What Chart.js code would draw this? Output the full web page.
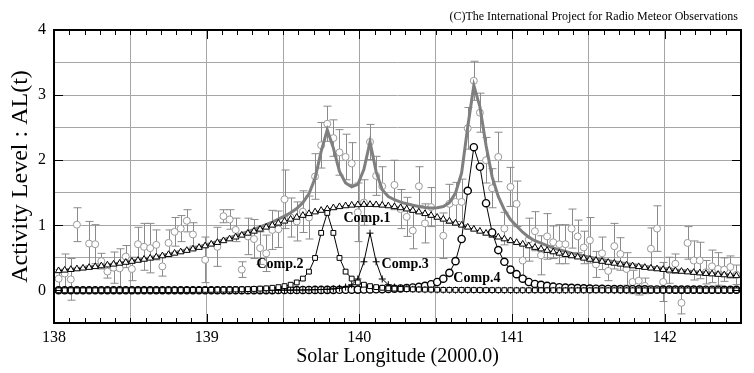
<!DOCTYPE html>
<html><head><meta charset="utf-8">
<script src="https://cdn.jsdelivr.net/npm/chart.js@4.4.1/dist/chart.umd.min.js"></script>
<style>html,body{margin:0;padding:0;background:#fff}#wrap{width:754px;height:373px}</style>
</head><body><div id="wrap"><canvas id="c" width="754" height="373"></canvas></div>
<script>
// Solar longitude grid of the model curves
const modelLon = [
138.03,138.07,138.11,138.15,138.19,138.23,138.27,138.31,138.35,138.39,
138.43,138.47,138.51,138.55,138.59,138.63,138.67,138.71,138.75,138.79,
138.83,138.87,138.91,138.95,138.99,139.03,139.07,139.11,139.15,139.19,
139.23,139.27,139.31,139.35,139.39,139.43,139.47,139.51,139.55,139.59,
139.63,139.67,139.71,139.75,139.79,139.83,139.87,139.91,139.95,139.99,
140.03,140.07,140.11,140.15,140.19,140.23,140.27,140.31,140.35,140.39,
140.43,140.47,140.51,140.55,140.59,140.63,140.67,140.71,140.75,140.79,
140.83,140.87,140.91,140.95,140.99,141.03,141.07,141.11,141.15,141.19,
141.23,141.27,141.31,141.35,141.39,141.43,141.47,141.51,141.55,141.59,
141.63,141.67,141.71,141.75,141.79,141.83,141.87,141.91,141.95,141.99,
142.03,142.07,142.11,142.15,142.19,142.23,142.27,142.31,142.35,142.39,
142.43,142.47];
// Comp.1 (triangles)
const comp1 = [
0.302,0.311,0.321,0.331,0.342,0.353,0.365,0.377,0.390,0.403,
0.417,0.431,0.446,0.462,0.478,0.495,0.513,0.531,0.551,0.571,
0.592,0.614,0.636,0.660,0.684,0.710,0.736,0.763,0.791,0.819,
0.848,0.878,0.909,0.940,0.971,1.002,1.033,1.064,1.094,1.123,
1.152,1.179,1.205,1.229,1.250,1.269,1.286,1.299,1.309,1.316,
1.320,1.320,1.316,1.309,1.299,1.286,1.269,1.250,1.229,1.205,
1.179,1.152,1.123,1.094,1.064,1.033,1.002,0.971,0.940,0.909,
0.878,0.848,0.819,0.791,0.763,0.736,0.710,0.684,0.660,0.636,
0.614,0.592,0.571,0.551,0.531,0.513,0.495,0.478,0.462,0.446,
0.431,0.417,0.403,0.390,0.377,0.365,0.353,0.342,0.331,0.321,
0.311,0.302,0.293,0.284,0.276,0.268,0.260,0.253,0.246,0.239,
0.232,0.226];
// Comp.2 (squares)
const comp2 = [
0.002,0.002,0.002,0.002,0.002,0.002,0.002,0.003,0.003,0.003,
0.003,0.003,0.003,0.003,0.004,0.004,0.004,0.005,0.005,0.006,
0.006,0.007,0.007,0.008,0.009,0.009,0.011,0.012,0.013,0.015,
0.017,0.020,0.023,0.028,0.033,0.041,0.051,0.066,0.088,0.123,
0.182,0.289,0.499,0.884,1.190,0.884,0.499,0.289,0.182,0.123,
0.088,0.066,0.051,0.041,0.033,0.028,0.023,0.020,0.017,0.015,
0.013,0.012,0.011,0.009,0.009,0.008,0.007,0.007,0.006,0.006,
0.005,0.005,0.004,0.004,0.004,0.003,0.003,0.003,0.003,0.003,
0.003,0.003,0.002,0.002,0.002,0.002,0.002,0.002,0.002,0.002,
0.002,0.002,0.002,0.002,0.002,0.002,0.001,0.001,0.001,0.001,
0.001,0.001,0.001,0.001,0.001,0.001,0.001,0.001,0.001,0.001,
0.001,0.001];
// Comp.3 (plus signs)
const comp3 = [
0,0,0,0,0,0,0,0,0,0,
0,0.001,0.001,0.001,0.001,0.001,0.001,0.001,0.001,0.001,
0.001,0.001,0.001,0.001,0.001,0.001,0.001,0.001,0.001,0.001,
0.002,0.002,0.002,0.003,0.003,0.003,0.004,0.005,0.005,0.006,
0.007,0.009,0.011,0.014,0.018,0.024,0.034,0.052,0.088,0.176,
0.440,0.880,0.440,0.176,0.088,0.052,0.034,0.024,0.018,0.014,
0.011,0.009,0.007,0.006,0.005,0.005,0.004,0.003,0.003,0.003,
0.002,0.002,0.002,0.002,0.001,0.001,0.001,0.001,0.001,0.001,
0.001,0.001,0.001,0.001,0.001,0.001,0.001,0.001,0.001,0.001,
0.001,0.001,0,0,0,0,0,0,0,0,
0,0,0,0,0,0,0,0,0,0,
0,0];
// Comp.4 (circles)
const comp4 = [
0.002,0.002,0.002,0.002,0.002,0.002,0.002,0.002,0.002,0.002,
0.002,0.002,0.002,0.002,0.002,0.002,0.002,0.002,0.003,0.003,
0.003,0.003,0.003,0.003,0.003,0.003,0.003,0.003,0.004,0.004,
0.004,0.004,0.005,0.005,0.005,0.005,0.006,0.006,0.006,0.006,
0.007,0.007,0.008,0.008,0.009,0.009,0.010,0.011,0.012,0.013,
0.014,0.016,0.018,0.020,0.023,0.027,0.031,0.037,0.045,0.055,
0.070,0.095,0.130,0.180,0.270,0.450,0.790,1.530,2.200,1.900,
1.340,0.890,0.620,0.440,0.320,0.250,0.180,0.130,0.100,0.085,
0.070,0.058,0.050,0.044,0.039,0.035,0.032,0.029,0.027,0.025,
0.023,0.021,0.020,0.019,0.018,0.017,0.016,0.015,0.015,0.014,
0.014,0.013,0.013,0.012,0.012,0.012,0.011,0.011,0.011,0.010,
0.010,0.010];
// Total model (grey line)
const modelTotal = [
0.306,0.315,0.325,0.335,0.346,0.357,0.369,0.382,0.395,0.408,
0.422,0.437,0.452,0.468,0.485,0.502,0.520,0.539,0.560,0.581,
0.602,0.625,0.647,0.672,0.697,0.723,0.751,0.779,0.809,0.839,
0.871,0.904,0.939,0.976,1.012,1.051,1.094,1.141,1.193,1.258,
1.348,1.484,1.723,2.135,2.467,2.186,1.829,1.651,1.591,1.628,
1.862,2.282,1.825,1.546,1.443,1.393,1.357,1.331,1.309,1.289,
1.273,1.268,1.271,1.289,1.348,1.496,1.803,2.511,3.149,2.818,
2.225,1.745,1.445,1.237,1.089,0.990,0.894,0.818,0.764,0.725,
0.688,0.654,0.624,0.598,0.573,0.551,0.530,0.510,0.492,0.474,
0.457,0.441,0.425,0.411,0.397,0.384,0.370,0.358,0.347,0.336,
0.326,0.316,0.307,0.297,0.289,0.281,0.272,0.265,0.258,0.250,
0.243,0.237];
// Observed activity level with error bars
const obsLon = [
138.03,138.07,138.11,138.15,138.23,138.27,138.31,138.35,138.39,138.43,
138.47,138.51,138.55,138.59,138.63,138.67,138.71,138.75,138.79,138.83,
138.87,138.91,138.99,139.07,139.11,139.15,139.19,139.23,139.27,139.31,
139.35,139.39,139.43,139.47,139.51,139.55,139.59,139.63,139.67,139.71,
139.75,139.79,139.83,139.87,139.91,139.95,139.99,140.03,140.07,140.11,
140.15,140.23,140.27,140.31,140.35,140.39,140.43,140.47,140.55,140.59,
140.63,140.67,140.71,140.75,140.79,140.83,140.87,140.91,140.95,140.99,
141.03,141.07,141.11,141.15,141.19,141.23,141.27,141.31,141.35,141.39,
141.43,141.47,141.51,141.55,141.59,141.63,141.67,141.71,141.75,141.79,
141.83,141.87,141.91,141.95,141.99,142.03,142.07,142.11,142.15,142.19,
142.23,142.27,142.31,142.35,142.39,142.43,142.47];
const obsVal = [
0.18,0.26,0.17,1.01,0.72,0.71,0.45,0.29,0.35,0.34,
0.52,0.33,0.71,0.67,0.65,0.70,0.37,0.73,0.90,0.95,
1.07,0.86,0.47,0.67,1.14,1.09,0.93,0.32,0.83,0.79,
0.65,0.57,0.93,0.94,1.40,1.12,1.06,1.21,1.12,1.75,
2.23,2.56,2.34,2.12,2.05,1.95,1.20,1.35,2.28,1.76,
1.60,1.62,1.25,1.13,0.92,1.60,1.03,1.28,0.84,1.33,
1.36,1.36,2.49,3.22,2.73,2.00,1.57,2.05,0.95,1.59,
1.33,0.46,0.78,0.91,0.54,0.83,0.74,0.71,0.71,0.95,
0.83,0.66,0.77,0.40,0.57,0.30,0.68,0.56,0.33,0.13,
0.15,0.07,0.64,0.95,0.13,0.31,0.41,-0.19,0.73,0.46,
0.46,0.28,0.37,0.33,0.32,0.36,0.24];
const obsErr = [
0.14,0.30,0.32,0.26,0.34,0.30,0.12,0.10,0.24,0.30,
0.17,0.18,0.26,0.36,0.38,0.23,0.15,0.20,0.22,0.20,
0.17,0.18,0.35,0.30,0.10,0.15,0.18,0.12,0.28,0.30,
0.25,0.28,0.30,0.28,0.45,0.30,0.30,0.32,0.33,0.35,
0.35,0.27,0.28,0.35,0.35,0.32,0.45,0.35,0.27,0.30,
0.30,0.38,0.30,0.30,0.28,0.30,0.30,0.30,0.35,0.30,
0.30,0.35,0.32,0.30,0.30,0.35,0.30,0.38,0.25,0.30,
0.35,0.25,0.33,0.30,0.30,0.35,0.25,0.30,0.30,0.30,
0.25,0.25,0.35,0.20,0.25,0.15,0.35,0.25,0.25,0.18,
0.22,0.12,0.32,0.35,0.30,0.20,0.15,0.17,0.25,0.30,
0.28,0.18,0.25,0.25,0.18,0.17,0.15];
const xTickLabels = [138,139,140,141,142];
const yTickLabels = [0,1,2,3,4];
const compNames = ['Comp.1','Comp.2','Comp.3','Comp.4'];
const compNameLon = [140.05,139.48,140.30,140.77];
const compNameVal = [1.11,0.40,0.40,0.185];

const SERIF = "'Liberation Serif','Times New Roman',serif";
const pts = (xs, ys) => xs.map((x, i) => ({x: x, y: ys[i]}));

const errorBars = {
  id: 'errorBars',
  beforeDatasetsDraw(chart) {
    const {ctx, chartArea: a, scales: {x, y}} = chart;
    ctx.save();
    ctx.beginPath(); ctx.rect(a.left, a.top, a.right - a.left, a.bottom - a.top); ctx.clip();
    ctx.strokeStyle = '#8a8a8a'; ctx.lineWidth = 1;
    obsLon.forEach((lon, i) => {
      const px = Math.round(x.getPixelForValue(lon)) + 0.5;
      const y1 = y.getPixelForValue(obsVal[i] + obsErr[i]);
      const y2 = y.getPixelForValue(obsVal[i] - obsErr[i]);
      ctx.beginPath();
      ctx.moveTo(px, y1); ctx.lineTo(px, y2);
      ctx.moveTo(px - 4, y1); ctx.lineTo(px + 4, y1);
      ctx.moveTo(px - 4, y2); ctx.lineTo(px + 4, y2);
      ctx.stroke();
    });
    ctx.restore();
  }
};

const frame = {
  id: 'frame',
  afterDraw(chart) {
    const {ctx, chartArea: a, scales: {x, y}} = chart;
    ctx.save();
    ctx.strokeStyle = '#000'; ctx.lineWidth = 1;
    for (let t = 1380; t <= 1425; t++) {
      const v = t / 10;
      const px = Math.round(x.getPixelForValue(v)) + 0.5;
      const len = (t % 10 === 0) ? 9 : 5;
      ctx.beginPath();
      ctx.moveTo(px, a.bottom); ctx.lineTo(px, a.bottom - len);
      ctx.moveTo(px, a.top); ctx.lineTo(px, a.top + len);
      ctx.stroke();
    }
    yTickLabels.forEach(v => {
      const py = Math.round(y.getPixelForValue(v)) + 0.5;
      ctx.beginPath();
      ctx.moveTo(a.left, py); ctx.lineTo(a.left + 9, py);
      ctx.moveTo(a.right, py); ctx.lineTo(a.right - 9, py);
      ctx.stroke();
    });
    ctx.lineWidth = 2;
    ctx.strokeRect(a.left, a.top, a.right - a.left, a.bottom - a.top);
    ctx.fillStyle = '#000';
    ctx.font = "bold 14px " + SERIF;
    ctx.textAlign = 'center'; ctx.textBaseline = 'middle';
    compNames.forEach((n, i) => {
      ctx.fillText(n, x.getPixelForValue(compNameLon[i]), y.getPixelForValue(compNameVal[i]));
    });
    ctx.font = "12px " + SERIF;
    ctx.textAlign = 'right'; ctx.textBaseline = 'alphabetic';
    ctx.fillText('(C)The International Project for Radio Meteor Observations', 738, 20);
    ctx.restore();
  }
};

new Chart(document.getElementById('c'), {
  type: 'line',
  data: {
    datasets: [
      {label: 'Comp.2', data: pts(modelLon, comp2), order: 0, borderColor: '#000', borderWidth: 1,
       pointStyle: 'rect', pointRadius: 3.4, pointBorderColor: '#000', pointBackgroundColor: '#fff', pointBorderWidth: 1},
      {label: 'Comp.3', data: pts(modelLon, comp3), order: 1, borderColor: '#000', borderWidth: 1,
       pointStyle: 'cross', pointRadius: 3.5, pointBorderColor: '#000', pointBackgroundColor: '#fff', pointBorderWidth: 1},
      {label: 'Comp.4', data: pts(modelLon, comp4), order: 2, borderColor: '#000', borderWidth: 1,
       pointStyle: 'circle', pointRadius: 3.6, pointBorderColor: '#000', pointBackgroundColor: '#fff', pointBorderWidth: 1.4},
      {label: 'Comp.1', data: pts(modelLon, comp1), order: 3, borderColor: '#000', borderWidth: 1,
       pointStyle: 'triangle', pointRadius: 3.8, pointBorderColor: '#000', pointBackgroundColor: '#fff', pointBorderWidth: 1},
      {label: 'Total', data: pts(modelLon, modelTotal), order: 5, borderColor: '#7f7f7f', borderWidth: 3,
       pointRadius: 0, tension: 0},
      {label: 'Observed', data: pts(obsLon, obsVal), order: 6, showLine: false,
       pointStyle: 'circle', pointRadius: 3.5, pointBorderColor: '#999', pointBackgroundColor: '#fff', pointBorderWidth: 1}
    ]
  },
  options: {
    responsive: false, animation: false, devicePixelRatio: 1,
    layout: {padding: {top: 30, right: 13, left: 0, bottom: 0}},
    plugins: {legend: {display: false}, tooltip: {enabled: false}},
    scales: {
      x: {
        type: 'linear', min: 138, max: 142.5,
        afterFit(s) { s.height = 50; },
        ticks: {stepSize: 0.5, autoSkip: false, maxRotation: 0, padding: 5, color: '#000',
          font: {family: SERIF, size: 16},
          callback: v => xTickLabels.includes(v) ? String(v) : ''},
        grid: {color: '#a6a6a6', lineWidth: 1, drawTicks: false},
        border: {display: false},
        title: {display: true, text: 'Solar Longitude (2000.0)', color: '#000',
          font: {family: SERIF, size: 20}, padding: {top: 0, bottom: 4}}
      },
      y: {
        min: -0.5, max: 4,
        afterFit(s) { s.width = 54; },
        ticks: {stepSize: 0.5, autoSkip: false, padding: 8, color: '#000',
          font: {family: SERIF, size: 16},
          callback: v => yTickLabels.includes(v) ? String(v) : ''},
        grid: {color: '#a6a6a6', lineWidth: 1, drawTicks: false},
        border: {display: false},
        title: {display: true, text: 'Activity Level : AL(t)', color: '#000',
          font: {family: SERIF, size: 24}, padding: {top: 6, bottom: 0}}
      }
    }
  },
  plugins: [errorBars, frame]
});
</script></body></html>
